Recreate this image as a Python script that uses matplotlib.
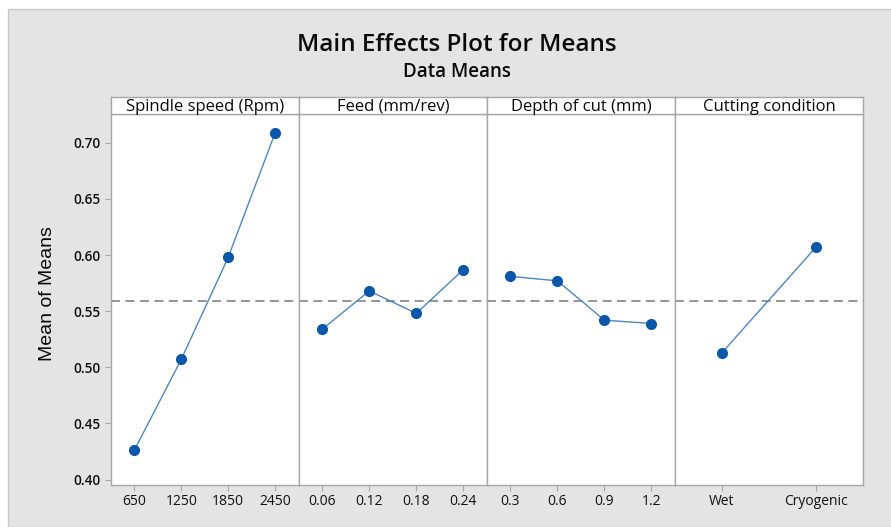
import matplotlib
matplotlib.use("Agg")
import matplotlib.pyplot as plt
from matplotlib.patches import Rectangle

# ---- data ----
factors = ["Spindle speed (Rpm)", "Feed (mm/rev)", "Depth of cut (mm)", "Cutting condition"]
spindle_levels = ["650", "1250", "1850", "2450"]
spindle_means = [0.426, 0.507, 0.598, 0.709]
feed_levels = ["0.06", "0.12", "0.18", "0.24"]
feed_means = [0.534, 0.568, 0.548, 0.587]
depth_levels = ["0.3", "0.6", "0.9", "1.2"]
depth_means = [0.581, 0.577, 0.542, 0.539]
cond_levels = ["Wet", "Cryogenic"]
cond_means = [0.513, 0.607]
grand_mean = 0.559
yticks = [0.40, 0.45, 0.50, 0.55, 0.60, 0.65, 0.70]

levels = [spindle_levels, feed_levels, depth_levels, cond_levels]
means = [spindle_means, feed_means, depth_means, cond_means]

W, H = 891, 527
fig = plt.figure(figsize=(W / 100, H / 100), dpi=100)
fig.patch.set_facecolor("white")

bg = "#e4e4e4"
frame = "#a6a6a6"
fig.patches.append(Rectangle((8 / W, 0), 1, 1 - 9 / H, transform=fig.transFigure,
                             facecolor=bg, edgecolor="#c8c8c8", linewidth=1.0, zorder=-10))

font = "Open Sans"
left_px, right_px = 110.7, 863.0
bot_px, top_px, head_px = 484.7, 113.7, 97.3
pw = (right_px - left_px) / 4

for i in range(4):
    x0 = (left_px + i * pw) / W
    ax = fig.add_axes([x0, 1 - bot_px / H, pw / W, (bot_px - top_px) / H])
    ax.set_facecolor("white")
    n = len(levels[i])
    xs = list(range(n))
    ax.axhline(grand_mean, color="#8c8c8c", linestyle=(0, (5, 3)), linewidth=1.3, zorder=1)
    ax.plot(xs, means[i], color="#4f86c6", linewidth=1.0, zorder=2)
    ax.plot(xs, means[i], "o", color="#0a56a8", markersize=7, zorder=3)
    ax.set_xlim(-0.5, n - 0.5)
    ax.set_ylim(0.3955, 0.7258)
    ax.set_xticks(xs)
    ax.set_xticklabels(levels[i], fontfamily=font, fontsize=10, color="#111111")
    ax.tick_params(axis="x", length=4, color=frame, pad=3)
    if i == 0:
        ax.set_yticks(yticks)
        ax.set_yticklabels([f"{v:.2f}" for v in yticks], fontfamily=font, fontsize=9.8,
                           color="#111111", fontweight="semibold")
        ax.tick_params(axis="y", length=4, color=frame, pad=3)
    else:
        ax.set_yticks([])
    for s in ax.spines.values():
        s.set_color(frame)
        s.set_linewidth(1.0)
    # header strip
    hax = fig.add_axes([x0, 1 - top_px / H, pw / W, (top_px - head_px) / H])
    hax.set_facecolor("white")
    hax.set_xticks([])
    hax.set_yticks([])
    for s in hax.spines.values():
        s.set_color(frame)
        s.set_linewidth(1.0)
    hax.text(0.5, 0.42, factors[i], transform=hax.transAxes, ha="center", va="center",
             fontfamily=font, fontsize=12, color="#0a0a0a")

fig.text(456.7 / W, 1 - 45 / H, "Main Effects Plot for Means", ha="center", va="center",
         fontfamily=font, fontsize=17.5, color="#0a0a0a", fontweight="semibold")
fig.text(456.5 / W, 1 - 72 / H, "Data Means", ha="center", va="center",
         fontfamily=font, fontsize=13.5, color="#0a0a0a", fontweight="semibold")
fig.text(47 / W, 1 - 294 / H, "Mean of Means", ha="center", va="center", rotation=90,
         fontfamily="Liberation Sans", fontsize=14, color="#0a0a0a")

fig.savefig("out.png", dpi=100, facecolor=fig.get_facecolor())
